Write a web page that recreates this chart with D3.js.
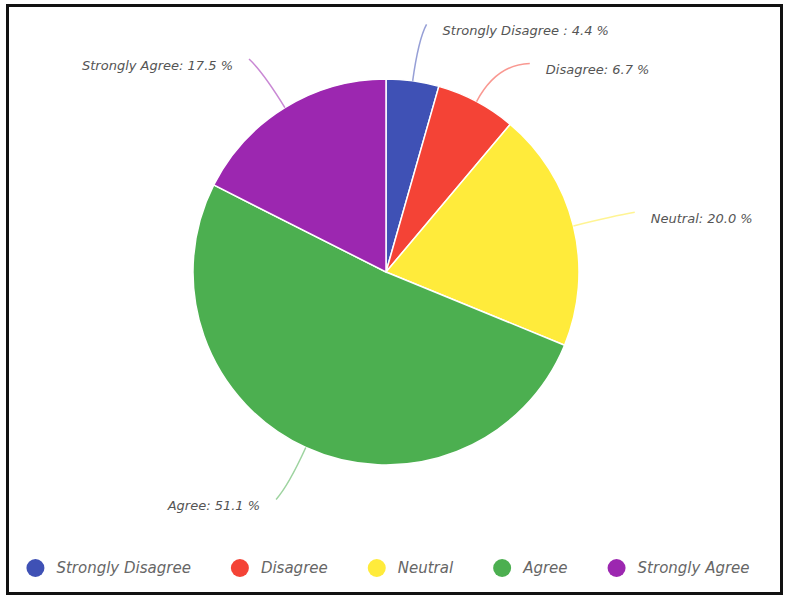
<!DOCTYPE html>
<html>
<head>
<meta charset="utf-8">
<script src="https://cdn.jsdelivr.net/npm/d3@7"></script>
<style>
  body { margin: 0; background: #fff; }
  svg { display: block; }
</style>
</head>
<body>
<script>
const categories = ["Strongly Disagree", "Disagree", "Neutral", "Agree", "Strongly Agree"];
const values = [4.4, 6.7, 20.0, 51.1, 17.5];
const labels = ["Strongly Disagree : 4.4 %", "Disagree: 6.7 %", "Neutral: 20.0 %", "Agree: 51.1 %", "Strongly Agree: 17.5 %"];
const colors = ["#3f51b5", "#f44336", "#ffeb3b", "#4caf50", "#9c27b0"];

const width = 789;
const height = 597;
const cx = 386;
const cy = 272;
const radius = 193;
const labelRadius = 250;
const font = "'DejaVu Sans', sans-serif";

const color = d3.scaleOrdinal(categories, colors);

const svg = d3.select("body").append("svg")
  .attr("width", width)
  .attr("height", height);

// frame
svg.append("rect")
  .attr("x", 7.5).attr("y", 5.5)
  .attr("width", 774).attr("height", 588)
  .attr("fill", "#fff")
  .attr("stroke", "#111")
  .attr("stroke-width", 3);

const pie = d3.pie().sort(null).value((d) => d.value);
const arcs = pie(categories.map((c, i) => ({ name: c, value: values[i], label: labels[i] })));

const arc = d3.arc().innerRadius(0).outerRadius(radius);

const g = svg.append("g").attr("transform", `translate(${cx},${cy})`);

g.selectAll("path.slice")
  .data(arcs)
  .join("path")
  .attr("class", "slice")
  .attr("d", arc)
  .attr("fill", (d) => color(d.data.name))
  .attr("stroke", "#fff")
  .attr("stroke-width", 1.5);

const pt = (a, r) => [Math.sin(a) * r, -Math.cos(a) * r];

// label end points, pushed apart vertically when they crowd on one side
arcs.forEach((d) => {
  d.mid = (d.startAngle + d.endAngle) / 2;
  d.side = d.mid < Math.PI ? 1 : -1;
  d.end = pt(d.mid, labelRadius);
});
[1, -1].forEach((side) => {
  const list = arcs.filter((d) => d.side === side).sort((a, b) => a.end[1] - b.end[1]);
  for (let i = 1; i < list.length; i++) {
    const prev = list[i - 1].end[1];
    if (list[i].end[1] - prev < 39) {
      const y = prev + 39;
      list[i].end = [side * Math.sqrt(Math.max(0, labelRadius * labelRadius - y * y)), y];
    }
  }
});

arcs.forEach((d) => {
  const p0 = pt(d.mid, radius);
  const p1 = pt(d.mid, radius + 42);
  const p2 = [d.end[0] + d.side * 6, d.end[1]];
  const path = d3.path();
  path.moveTo(...p0);
  path.quadraticCurveTo(...p1, ...p2);
  g.append("path")
    .attr("d", path.toString())
    .attr("fill", "none")
    .attr("stroke", color(d.data.name))
    .attr("stroke-opacity", 0.55)
    .attr("stroke-width", 1.5);
  g.append("text")
    .attr("x", p2[0] + d.side * 16)
    .attr("y", p2[1] + 6)
    .attr("dy", "0.35em")
    .attr("text-anchor", d.side > 0 ? "start" : "end")
    .attr("font-family", font)
    .attr("font-style", "italic")
    .attr("font-size", 13)
    .attr("fill", "#555")
    .text(d.data.label);
});

// legend
const legend = svg.append("g").attr("transform", "translate(0,568)");
const items = legend.selectAll("g")
  .data(categories)
  .join("g");
items.append("circle")
  .attr("r", 9)
  .attr("fill", (d) => color(d));
items.append("text")
  .attr("x", 21)
  .attr("dy", "0.35em")
  .attr("font-family", font)
  .attr("font-style", "italic")
  .attr("font-size", 15)
  .attr("fill", "#666")
  .text((d) => d);

let x = 0;
let lastEnd = 0;
const pos = [];
items.each(function () {
  const w = d3.select(this).select("text").node().getComputedTextLength();
  pos.push(x);
  lastEnd = x + 21 + w;
  x += 21 + w + 49;
});
const start = 388 - (lastEnd + 9) / 2 + 9;
items.attr("transform", (d, i) => `translate(${start + pos[i]},0)`);
</script>
</body>
</html>
